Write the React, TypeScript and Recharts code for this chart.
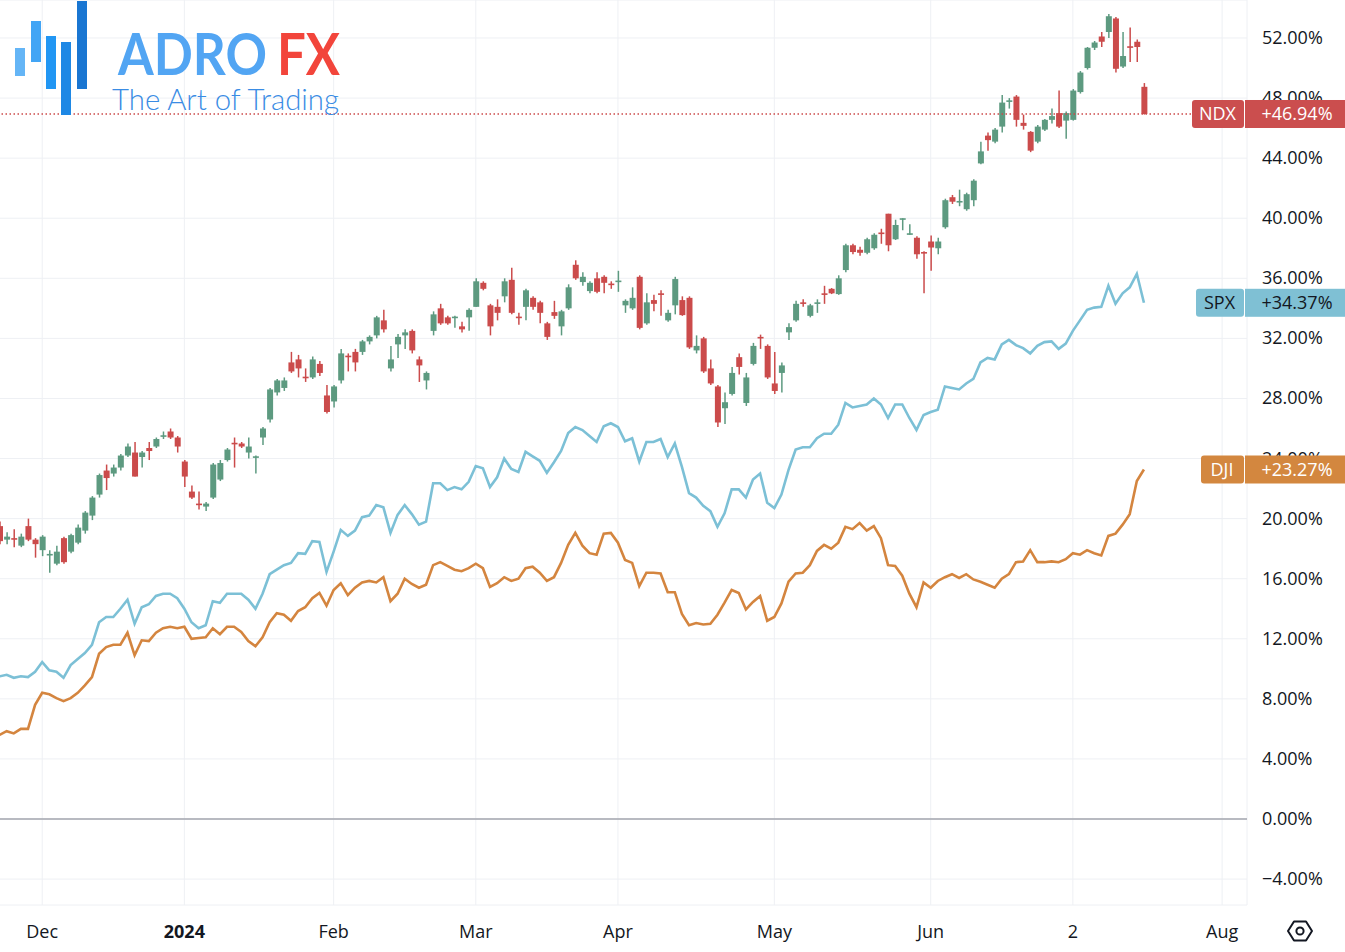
import React from 'react';
import {
  ComposedChart,
  Bar,
  Line,
  XAxis,
  YAxis,
  CartesianGrid,
  ReferenceLine,
} from 'recharts';

// NDX daily candles, % change (22 Nov 2023 .. 17 Jul 2024)
const ndxOpen = [
  19.5, 18.6, 18.7, 18.2, 19.5, 18.6, 17.9, 17.55, 17.0, 18.7,
  17.8, 18.4, 19.2, 20.2, 21.6, 23.2, 23.0, 23.4, 24.2, 24.4,
  24.1, 24.7, 24.8, 25.45, 25.8, 25.4, 23.8, 21.8, 21.0, 20.8,
  21.4, 22.6, 23.9, 25.05, 25.0, 24.4, 24.05, 25.4, 26.6, 28.4,
  28.7, 30.4, 30.6, 29.45, 29.4, 30.3, 28.2, 27.8, 29.2, 30.85,
  31.1, 31.1, 31.8, 32.2, 33.2, 30.0, 31.6, 32.2, 32.5, 30.6,
  29.2, 32.5, 34.0, 33.4, 33.35, 32.8, 33.4, 34.1, 35.7, 34.2,
  34.1, 34.8, 35.9, 33.45, 34.1, 34.7, 34.4, 33.0, 33.75, 32.8,
  34.0, 36.9, 35.75, 35.15, 36.0, 36.1, 35.65, 35.75, 34.2, 34.0,
  36.1, 33.0, 34.55, 35.0, 33.2, 34.2, 34.55, 34.7, 31.2, 32.0,
  30.0, 28.8, 27.35, 28.3, 30.75, 27.7, 30.3, 32.1, 31.5, 29.0,
  29.7, 32.4, 33.2, 34.4, 33.5, 34.3, 35.0, 35.3, 34.95, 36.55,
  38.2, 37.9, 37.7, 38.0, 39.05, 40.3, 38.6, 39.95, 38.95, 38.7,
  37.75, 38.45, 38.0, 39.4, 41.4, 41.05, 40.6, 41.2, 43.65, 45.5,
  45.1, 46.1, 47.75, 48.1, 46.35, 45.75, 45.1, 45.9, 46.55, 47.0,
  46.5, 46.55, 48.4, 50.0, 51.35, 52.1, 52.4, 53.3, 50.1, 51.45,
  51.75, 48.75,
];
const ndxClose = [
  18.5, 18.8, 18.6, 18.8, 18.6, 18.3, 18.8, 17.65, 17.8, 17.1,
  18.9, 19.4, 20.4, 21.4, 22.9, 22.7, 23.4, 24.2, 24.8, 22.8,
  24.4, 24.5, 25.3, 25.55, 25.4, 24.8, 22.8, 21.4, 20.9, 21.0,
  23.6, 23.7, 24.6, 24.95, 24.8, 24.8, 24.15, 26.0, 28.6, 29.2,
  29.2, 29.8, 30.0, 29.35, 30.6, 29.7, 27.1, 28.8, 31.0, 30.75,
  30.4, 31.8, 32.1, 33.4, 32.6, 30.6, 32.1, 32.4, 31.2, 30.2,
  29.7, 33.6, 33.0, 33.0, 33.45, 32.6, 33.9, 35.8, 35.3, 32.8,
  33.7, 35.8, 33.7, 33.35, 35.2, 34.1, 33.7, 32.1, 33.5, 33.8,
  35.4, 36.0, 36.1, 35.7, 35.1, 35.7, 35.55, 35.85, 34.5, 34.7,
  32.7, 34.4, 34.3, 34.9, 33.7, 35.95, 33.55, 31.4, 31.5, 29.8,
  29.0, 26.4, 27.75, 29.7, 30.1, 29.4, 31.5, 32.0, 29.4, 28.5,
  30.2, 32.75, 34.3, 34.3, 34.2, 34.4, 34.9, 35.0, 36.0, 38.2,
  37.75, 37.7, 38.6, 38.9, 38.95, 38.2, 39.55, 40.0, 39.0, 37.6,
  37.65, 38.05, 38.45, 41.2, 41.1, 41.15, 41.6, 42.5, 44.45, 45.2,
  45.9, 47.7, 47.85, 46.55, 46.15, 44.5, 46.1, 46.55, 46.8, 46.1,
  47.0, 48.5, 49.7, 51.35, 51.7, 51.75, 53.45, 49.95, 50.8, 51.35,
  51.4, 46.94,
];
const ndxHigh = [
  19.8, 19.1, 19.3, 19.0, 20.0, 18.7, 18.9, 17.9, 18.2, 18.8,
  19.0, 19.6, 20.5, 21.5, 23.0, 23.6, 23.6, 24.3, 25.0, 25.1,
  24.5, 25.1, 25.4, 25.8, 26.0, 25.5, 23.9, 22.2, 21.8, 21.1,
  23.7, 23.9, 24.7, 25.4, 25.1, 25.4, 24.2, 26.1, 28.7, 29.3,
  29.4, 31.1, 30.9, 30.0, 30.8, 30.5, 28.9, 28.9, 31.3, 31.0,
  31.3, 31.9, 32.2, 33.5, 33.9, 31.5, 32.3, 32.6, 32.6, 30.8,
  29.8, 33.8, 34.3, 33.5, 33.5, 33.1, 34.0, 36.0, 35.8, 34.3,
  34.6, 36.0, 36.7, 33.7, 35.3, 34.8, 34.5, 33.1, 34.5, 33.9,
  35.6, 37.2, 36.4, 35.8, 36.4, 36.2, 35.8, 36.5, 34.6, 35.4,
  36.2, 35.0, 34.9, 35.2, 33.9, 36.1, 34.8, 34.8, 32.2, 32.1,
  30.6, 28.9, 28.4, 30.1, 31.0, 29.7, 31.7, 32.25, 31.6, 31.1,
  30.4, 33.0, 34.5, 34.6, 34.3, 34.6, 35.5, 35.35, 36.2, 38.3,
  38.3, 38.1, 38.7, 39.0, 39.3, 40.3, 39.9, 40.0, 39.6, 38.8,
  37.8, 38.85, 38.7, 41.3, 41.55, 41.9, 41.7, 42.6, 45.1, 45.7,
  46.0, 48.2, 48.0, 48.2, 46.9, 45.8, 46.2, 46.6, 47.3, 48.5,
  47.1, 48.6, 49.8, 51.4, 51.8, 52.4, 53.6, 53.4, 52.4, 52.7,
  51.9, 49.0,
];
const ndxLow = [
  18.3, 18.3, 18.1, 18.1, 18.5, 17.4, 17.5, 16.4, 16.9, 17.0,
  17.7, 18.3, 19.0, 19.9, 21.4, 21.9, 22.8, 23.2, 24.1, 22.8,
  23.4, 23.9, 24.7, 25.3, 25.3, 24.4, 22.1, 21.3, 20.6, 20.5,
  21.3, 22.5, 23.8, 23.4, 24.7, 24.0, 23.0, 24.9, 26.4, 28.2,
  28.5, 29.7, 29.4, 29.1, 29.3, 29.5, 27.0, 27.4, 29.0, 29.8,
  29.8, 30.9, 31.6, 32.0, 32.4, 29.8, 30.7, 31.3, 31.0, 29.1,
  28.6, 32.2, 32.9, 32.9, 32.7, 32.4, 32.5, 34.1, 35.2, 32.2,
  33.2, 34.4, 33.6, 32.9, 33.2, 33.9, 33.0, 31.9, 33.3, 32.2,
  33.9, 35.9, 35.5, 35.0, 35.0, 35.0, 35.3, 35.1, 33.7, 33.9,
  32.6, 32.9, 33.8, 33.5, 33.1, 33.6, 33.5, 31.3, 31.0, 29.7,
  28.9, 26.1, 26.3, 28.2, 29.6, 27.5, 30.2, 31.3, 29.3, 28.3,
  28.4, 31.9, 33.1, 34.1, 33.4, 33.7, 34.3, 34.95, 34.9, 36.4,
  37.6, 37.5, 37.6, 37.9, 38.3, 37.8, 38.55, 39.2, 38.9, 37.3,
  35.0, 36.5, 37.6, 39.3, 40.95, 40.8, 40.5, 40.8, 43.6, 44.5,
  45.0, 45.7, 47.3, 46.1, 45.9, 44.4, 45.0, 45.8, 46.3, 46.0,
  45.3, 46.5, 48.3, 49.9, 51.2, 51.4, 52.0, 49.7, 50.0, 50.4,
  50.4, 46.9,
];

// SPX and DJI closes, % change
const spx = [
  9.5, 9.6, 9.4, 9.5, 9.45, 9.8, 10.45, 9.9, 9.8, 9.4,
  10.25, 10.65, 11.05, 11.6, 13.1, 13.45, 13.45, 14.0, 14.6, 13.0,
  14.1, 14.3, 14.85, 15.0, 15.0, 14.7, 14.0, 13.1, 12.7, 12.9,
  14.5, 14.4, 15.0, 15.0, 15.0, 14.6, 14.0, 15.0, 16.3, 16.6,
  16.9, 17.05, 17.7, 17.65, 18.5, 18.45, 16.45, 17.8, 19.25, 18.85,
  19.2, 20.1, 20.2, 20.9, 20.75, 19.05, 20.25, 20.9, 20.3, 19.6,
  19.8, 22.35, 22.35, 21.9, 22.1, 21.95, 22.45, 23.5, 23.35, 22.1,
  22.75, 24.0, 23.3, 23.1, 24.45, 24.15, 23.85, 23.05, 23.75, 24.5,
  25.7, 26.1, 25.9, 25.5, 25.1, 26.15, 26.35, 26.1, 25.15, 25.35,
  23.8, 25.1, 25.1, 25.3, 24.1, 25.0, 23.45, 21.7, 21.4, 20.85,
  20.5, 19.45, 20.35, 21.95, 21.95, 21.4, 22.6, 23.0, 21.05, 20.7,
  21.6, 23.25, 24.6, 24.75, 24.75, 25.35, 25.65, 25.65, 26.25, 27.7,
  27.4, 27.5, 27.6, 28.0, 27.6, 26.7, 27.6, 27.6, 26.7, 25.9,
  26.9, 27.1, 27.25, 28.8, 28.7, 28.6, 29.0, 29.3, 30.4, 30.7,
  30.6, 31.6, 31.9, 31.55, 31.35, 31.0, 31.5, 31.75, 31.8, 31.3,
  31.65, 32.5, 33.2, 33.9, 34.05, 34.1, 35.5, 34.3, 35.0, 35.4,
  36.3, 34.37,
];
const dji = [
  5.6, 5.85, 5.7, 6.0, 6.0, 7.6, 8.4, 8.3, 8.05, 7.85,
  8.05, 8.4, 8.9, 9.45, 11.0, 11.45, 11.6, 11.6, 12.4, 10.9,
  11.9, 11.85, 12.4, 12.7, 12.8, 12.7, 12.8, 12.0, 12.05, 12.1,
  12.7, 12.3, 12.8, 12.8, 12.45, 11.85, 11.5, 12.1, 13.1, 13.7,
  13.6, 13.2, 13.85, 14.1, 14.7, 15.05, 14.2, 15.25, 15.7, 14.9,
  15.4, 15.75, 15.85, 15.75, 16.1, 14.5, 15.0, 16.0, 15.65, 15.4,
  15.6, 16.9, 17.1, 16.85, 16.6, 16.5, 16.7, 17.0, 16.7, 15.45,
  15.7, 16.1, 15.85, 16.0, 16.7, 16.8, 16.4, 15.85, 16.1, 17.05,
  18.25, 19.05, 18.2, 17.7, 17.6, 19.0, 19.05, 18.4, 17.25, 17.05,
  15.5, 16.4, 16.4, 16.35, 15.1, 15.1, 13.65, 12.9, 13.05, 12.95,
  13.0, 13.6, 14.4, 15.25, 15.05, 13.95, 14.45, 14.85, 13.2, 13.45,
  14.35, 15.8, 16.35, 16.4, 16.9, 17.85, 18.25, 18.0, 18.4, 19.45,
  19.3, 19.7, 19.2, 19.5, 18.7, 16.9, 16.85, 16.2, 15.0, 14.1,
  15.75, 15.4, 15.85, 16.1, 16.3, 16.05, 16.3, 15.95, 15.8, 15.6,
  15.4, 16.0, 16.3, 17.1, 17.15, 17.9, 17.1, 17.1, 17.15, 17.1,
  17.3, 17.7, 17.6, 17.9, 17.7, 17.55, 18.85, 19.0, 19.6, 20.3,
  22.5, 23.27,
];

// month ticks (bar index of first session) and their labels
const monthTickIdx = [6, 26, 47, 67, 87, 109, 131, 151, 172];
const monthTickLabels = ['Dec', '2024', 'Feb', 'Mar', 'Apr', 'May', 'Jun', '2', 'Aug'];
const yTicks = [-4, 0, 4, 8, 12, 16, 20, 24, 28, 32, 36, 40, 44, 48, 52];

// last values shown in the price scale badges
const badgeNames = ['NDX', 'SPX', 'DJI'];
const badgeValues = [46.94, 34.37, 23.27];
const badgeFill = ['#cb4e4e', '#7fc0d4', '#d3873f'];
const badgeText = ['#ffffff', '#131722', '#ffffff'];
const badgeNameW = [51, 47, 42];

const TOTAL_SLOTS = 176; // leaves empty room up to August
const Y_AXIS_W = 97; // price scale; a 1px axis next to it carries the badges
const Y_DOMAIN: [number, number] = [-5.726, 54.53];

const UP = '#5d9a80';
const DOWN = '#cb4b4b';
const SPX_COLOR = '#7cc0d6';
const DJI_COLOR = '#d4853f';
const FONT = '"Open Sans", "DejaVu Sans", sans-serif';

const rows = Array.from({ length: TOTAL_SLOTS }, (_v, i) =>
  i < ndxClose.length
    ? {
        i,
        ndx: [ndxLow[i], ndxHigh[i]],
        o: ndxOpen[i],
        c: ndxClose[i],
        spx: spx[i],
        dji: dji[i],
      }
    : { i }
);

const Candle = (props: any) => {
  const { x, y, width, height, payload } = props;
  if (!payload || payload.o == null || !Array.isArray(payload.ndx)) return null;
  const [lo, hi] = payload.ndx;
  const top = Math.min(y, y + height);
  const h = Math.abs(height);
  const k = hi > lo ? h / (hi - lo) : 0;
  const py = (v: number) => top + (hi - v) * k;
  const up = payload.c >= payload.o;
  const color = up ? UP : DOWN;
  const cx = x + width / 2;
  const bTop = py(Math.max(payload.o, payload.c));
  const bBot = py(Math.min(payload.o, payload.c));
  return (
    <g>
      <line x1={cx} x2={cx} y1={top} y2={top + h} stroke={color} strokeWidth={1.5} />
      <rect x={x} y={bTop} width={width} height={Math.max(1.6, bBot - bTop)} fill={color} />
    </g>
  );
};

const XTick = (props: any) => {
  const { x, y, payload } = props;
  const label = monthTickLabels[monthTickIdx.indexOf(payload.value)] ?? '';
  return (
    <text
      x={x}
      y={y}
      dy={23}
      textAnchor="middle"
      fill="#131722"
      fontFamily={FONT}
      fontSize={18}
      fontWeight={label === '2024' ? 700 : 400}
    >
      {label}
    </text>
  );
};

const YTick = (props: any) => {
  const { x, y, payload } = props;
  const v = payload.value as number;
  const txt = (v < 0 ? '\u2212' : '') + Math.abs(v).toFixed(2) + '%';
  return (
    <text x={x} y={y} dy={6} textAnchor="start" fill="#131722" fontFamily={FONT} fontSize={18}>
      {txt}
    </text>
  );
};

// badge on the price scale: [name][+value]; drawn by the thin outer axis
const BadgeTick = (props: any) => {
  const { x, y, payload } = props;
  const k = badgeValues.indexOf(payload.value);
  if (k < 0) return null;
  const right = x - Y_AXIS_W; // right edge of the plot
  const h = 28;
  const nameW = badgeNameW[k];
  const leftX = right - 4 - nameW;
  const fg = badgeText[k];
  return (
    <g>
      <rect x={leftX} y={y - h / 2} width={nameW + 1} height={h} rx={3} fill={badgeFill[k]} />
      <rect x={right - 2} y={y - h / 2} width={Y_AXIS_W + 6} height={h} fill={badgeFill[k]} />
      <text
        x={leftX + nameW / 2}
        y={y}
        dy={6}
        textAnchor="middle"
        fill={fg}
        fontFamily={FONT}
        fontSize={18}
      >
        {badgeNames[k]}
      </text>
      <text x={right + 50} y={y} dy={6} textAnchor="middle" fill={fg} fontFamily={FONT} fontSize={18}>
        {'+' + payload.value.toFixed(2) + '%'}
      </text>
    </g>
  );
};

const Logo = () => (
  <svg
    width={360}
    height={122}
    style={{ position: 'absolute', left: 0, top: 0, pointerEvents: 'none' }}
  >
    <rect x={15} y={48} width={10} height={28} fill="#64b5f6" />
    <rect x={31} y={21} width={10} height={41} fill="#42a5f5" />
    <rect x={46} y={36} width={10} height={53} fill="#2196f3" />
    <rect x={61} y={42} width={10} height={73} fill="#1e88e5" />
    <rect x={77} y={1} width={10} height={88} fill="#1976d2" />
    <text
      x={118}
      y={75}
      fontFamily='"Lato", "Open Sans", sans-serif'
      fontWeight={700}
      fontSize={58}
      fill="#52a5f3"
      textLength={149}
      lengthAdjust="spacingAndGlyphs"
    >
      ADRO
    </text>
    <text
      x={277}
      y={75}
      fontFamily='"Lato", "Open Sans", sans-serif'
      fontWeight={700}
      fontSize={58}
      fill="#f2453b"
      textLength={63}
      lengthAdjust="spacingAndGlyphs"
    >
      FX
    </text>
    <text
      x={112}
      y={110}
      fontFamily='"Lato", "Open Sans", sans-serif'
      fontWeight={300}
      fontSize={30}
      fill="#3a8ce4"
      textLength={227}
      lengthAdjust="spacingAndGlyphs"
    >
      The Art of Trading
    </text>
  </svg>
);

const SettingsIcon = () => (
  <svg
    width={30}
    height={26}
    style={{ position: 'absolute', left: 1285, top: 918, pointerEvents: 'none' }}
  >
    <polygon
      points="3,13 9,3.5 21,3.5 27,13 21,22.5 9,22.5"
      fill="none"
      stroke="#131722"
      strokeWidth={2}
      strokeLinejoin="round"
    />
    <circle cx={15} cy={13} r={3.6} fill="none" stroke="#131722" strokeWidth={2} />
  </svg>
);

export default function App() {
  return (
    <div
      style={{
        position: 'absolute',
        left: 0,
        top: 0,
        width: 1345,
        height: 952,
        background: '#ffffff',
        overflow: 'hidden',
      }}
    >
      <div style={{ position: 'absolute', left: -4, top: 0 }}>
        <ComposedChart
          width={1349}
          height={952}
          data={rows}
          margin={{ top: 0, right: 0, bottom: 0, left: 0 }}
          barCategoryGap={0}
        >
          <CartesianGrid stroke="#eef0f4" strokeWidth={1} />
          <XAxis
            dataKey="i"
            type="category"
            height={47}
            ticks={monthTickIdx}
            interval={0}
            axisLine={false}
            tickLine={false}
            tickSize={0}
            tickMargin={10}
            tick={<XTick />}
          />
          <YAxis
            orientation="right"
            width={Y_AXIS_W}
            domain={Y_DOMAIN}
            allowDataOverflow
            ticks={yTicks}
            interval={0}
            axisLine={false}
            tickLine={false}
            tickSize={0}
            tickMargin={15}
            tick={<YTick />}
          />
          <YAxis
            yAxisId="badges"
            orientation="right"
            width={1}
            domain={Y_DOMAIN}
            allowDataOverflow
            ticks={badgeValues}
            interval={0}
            axisLine={false}
            tickLine={false}
            tickSize={0}
            tickMargin={0}
            tick={<BadgeTick />}
          />
          <ReferenceLine y={0} stroke="#a3a6ae" strokeWidth={1.5} />
          <Line
            dataKey="spx"
            stroke={SPX_COLOR}
            strokeWidth={2.6}
            dot={false}
            activeDot={false}
            isAnimationActive={false}
          />
          <Line
            dataKey="dji"
            stroke={DJI_COLOR}
            strokeWidth={2.6}
            dot={false}
            activeDot={false}
            isAnimationActive={false}
          />
          <Bar
            dataKey={(d: any) => d.ndx}
            barSize={6}
            shape={(p: any) => <Candle {...p} />}
            isAnimationActive={false}
          />
          <ReferenceLine
            y={badgeValues[0]}
            stroke="#cc4a4a"
            strokeWidth={1.3}
            strokeDasharray="1.5 2.5"
          />
        </ComposedChart>
      </div>
      <Logo />
      <SettingsIcon />
    </div>
  );
}
